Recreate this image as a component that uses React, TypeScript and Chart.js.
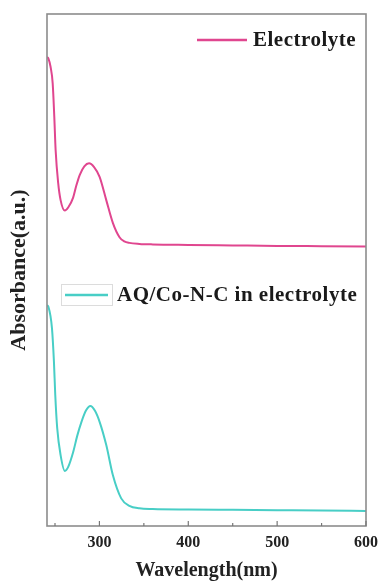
import React, { useEffect, useRef } from "react";
import { Chart, registerables } from "chart.js";

Chart.register(...registerables);

const electrolyteWavelength = [241, 242.5, 245, 247.4, 249.2, 250.7, 253.6, 256.3, 261, 265, 270.4, 274, 277.9, 283, 288.3, 294, 300.2, 307.7, 315.1, 322.6, 328, 333.7, 345, 360, 400, 450, 500, 550, 600];
const electrolyteAbs = [1.832, 1.827, 1.794, 1.729, 1.599, 1.469, 1.339, 1.273, 1.232, 1.245, 1.283, 1.33, 1.372, 1.405, 1.417, 1.402, 1.364, 1.273, 1.184, 1.128, 1.112, 1.106, 1.102, 1.1, 1.098, 1.096, 1.094, 1.093, 1.092];

const aqWavelength = [241, 242.5, 246.6, 248.8, 250.3, 252.5, 256.3, 261.1, 265, 270.4, 275, 279.8, 285, 289.8, 295, 300.2, 307.7, 315.1, 324.5, 333.7, 344.9, 360, 400, 450, 500, 550, 600];
const aqAbs = [0.863, 0.857, 0.772, 0.642, 0.512, 0.382, 0.277, 0.215, 0.232, 0.288, 0.352, 0.407, 0.452, 0.469, 0.45, 0.407, 0.316, 0.199, 0.108, 0.079, 0.069, 0.066, 0.064, 0.063, 0.062, 0.061, 0.059];

const majorTicks = [300, 400, 500, 600];
const minorTicks = [250, 350, 450, 550];

const seriesLabels = ["Electrolyte", "AQ/Co-N-C in electrolyte"];
const seriesColors = ["#e0468f", "#48cec6"];

const FONT = "'Liberation Serif', 'Times New Roman', serif";

const framePlugin = {
  id: "frameAndLegend",
  afterDatasetsDraw(chart: any) {
    const { ctx, chartArea } = chart;
    const { left, right, top, bottom } = chartArea;
    const xs = chart.scales.x;
    ctx.save();
    // frame
    ctx.strokeStyle = "#8c8c8c";
    ctx.lineWidth = 1.6;
    ctx.strokeRect(left, top, right - left, bottom - top);
    // inward ticks
    ctx.lineWidth = 1.2;
    ctx.strokeStyle = "#777";
    majorTicks.forEach((v) => {
      const px = xs.getPixelForValue(v);
      ctx.beginPath();
      ctx.moveTo(px, bottom);
      ctx.lineTo(px, bottom - 5);
      ctx.stroke();
    });
    minorTicks.forEach((v) => {
      const px = xs.getPixelForValue(v);
      ctx.beginPath();
      ctx.moveTo(px, bottom);
      ctx.lineTo(px, bottom - 3);
      ctx.stroke();
    });

    // legends
    ctx.font = `bold 21px ${FONT}`;
    (ctx as any).letterSpacing = "0.5px";
    ctx.textBaseline = "middle";
    ctx.fillStyle = "#1a1a1a";
    // legend 1
    ctx.strokeStyle = seriesColors[0];
    ctx.lineWidth = 2.5;
    ctx.beginPath();
    ctx.moveTo(left + 150, top + 26);
    ctx.lineTo(left + 200, top + 26);
    ctx.stroke();
    ctx.fillText(chart.data.datasets[0].label, left + 206, top + 27);
    // legend 2 with box
    ctx.strokeStyle = "#dcdcdc";
    ctx.lineWidth = 1;
    ctx.strokeRect(left + 14.5, top + 270.5, 51, 21);
    ctx.strokeStyle = seriesColors[1];
    ctx.lineWidth = 2.5;
    ctx.beginPath();
    ctx.moveTo(left + 18, top + 281);
    ctx.lineTo(left + 61, top + 281);
    ctx.stroke();
    ctx.fillText(chart.data.datasets[1].label, left + 70, top + 282);
    ctx.restore();
  },
};

export default function App() {
  const canvasRef = useRef<HTMLCanvasElement | null>(null);

  useEffect(() => {
    document.body.style.margin = "0";
    const canvas = canvasRef.current;
    if (!canvas) return;
    const chart = new Chart(canvas, {
      type: "line",
      data: {
        datasets: [
          {
            label: seriesLabels[0],
            data: electrolyteWavelength.map((x, i) => ({ x, y: electrolyteAbs[i] })),
            borderColor: seriesColors[0],
            borderWidth: 2,
            pointRadius: 0,
            cubicInterpolationMode: "monotone",
            fill: false,
          },
          {
            label: seriesLabels[1],
            data: aqWavelength.map((x, i) => ({ x, y: aqAbs[i] })),
            borderColor: seriesColors[1],
            borderWidth: 2,
            pointRadius: 0,
            cubicInterpolationMode: "monotone",
            fill: false,
          },
        ],
      },
      options: {
        animation: false,
        responsive: true,
        maintainAspectRatio: false,
        layout: { padding: { top: 14, right: 16, left: 0, bottom: 0 } },
        plugins: {
          legend: { display: false },
          tooltip: { enabled: false },
        },
        scales: {
          x: {
            type: "linear",
            min: 241,
            max: 600,
            afterBuildTicks: (scale: any) => {
              scale.ticks = [...majorTicks].map((v) => ({ value: v }));
            },
            afterFit: (scale: any) => {
              scale.height = 55;
            },
            grid: { display: false, drawTicks: false },
            border: { display: false },
            ticks: {
              padding: 7,
              color: "#222",
              font: { family: FONT, size: 16, weight: "bold" },
              maxRotation: 0,
            },
            title: {
              display: true,
              text: "Wavelength(nm)",
              color: "#222",
              font: { family: FONT, size: 20, weight: "bold", lineHeight: 1.0 },
              padding: { top: 0, bottom: 0 },
            },
          },
          y: {
            type: "linear",
            min: 0,
            max: 2,
            afterFit: (scale: any) => {
              scale.width = 47;
            },
            grid: { display: false, drawTicks: false },
            border: { display: false },
            ticks: { display: false },
            title: {
              display: true,
              text: "Absorbance(a.u.)",
              color: "#222",
              font: { family: FONT, size: 22, weight: "bold" },
              padding: { top: 6, bottom: 0 },
            },
          },
        },
      },
      plugins: [framePlugin],
    });
    return () => chart.destroy();
  }, []);

  return (
    <div style={{ width: 385, height: 581, position: "relative" }}>
      <canvas ref={canvasRef} />
    </div>
  );
}
